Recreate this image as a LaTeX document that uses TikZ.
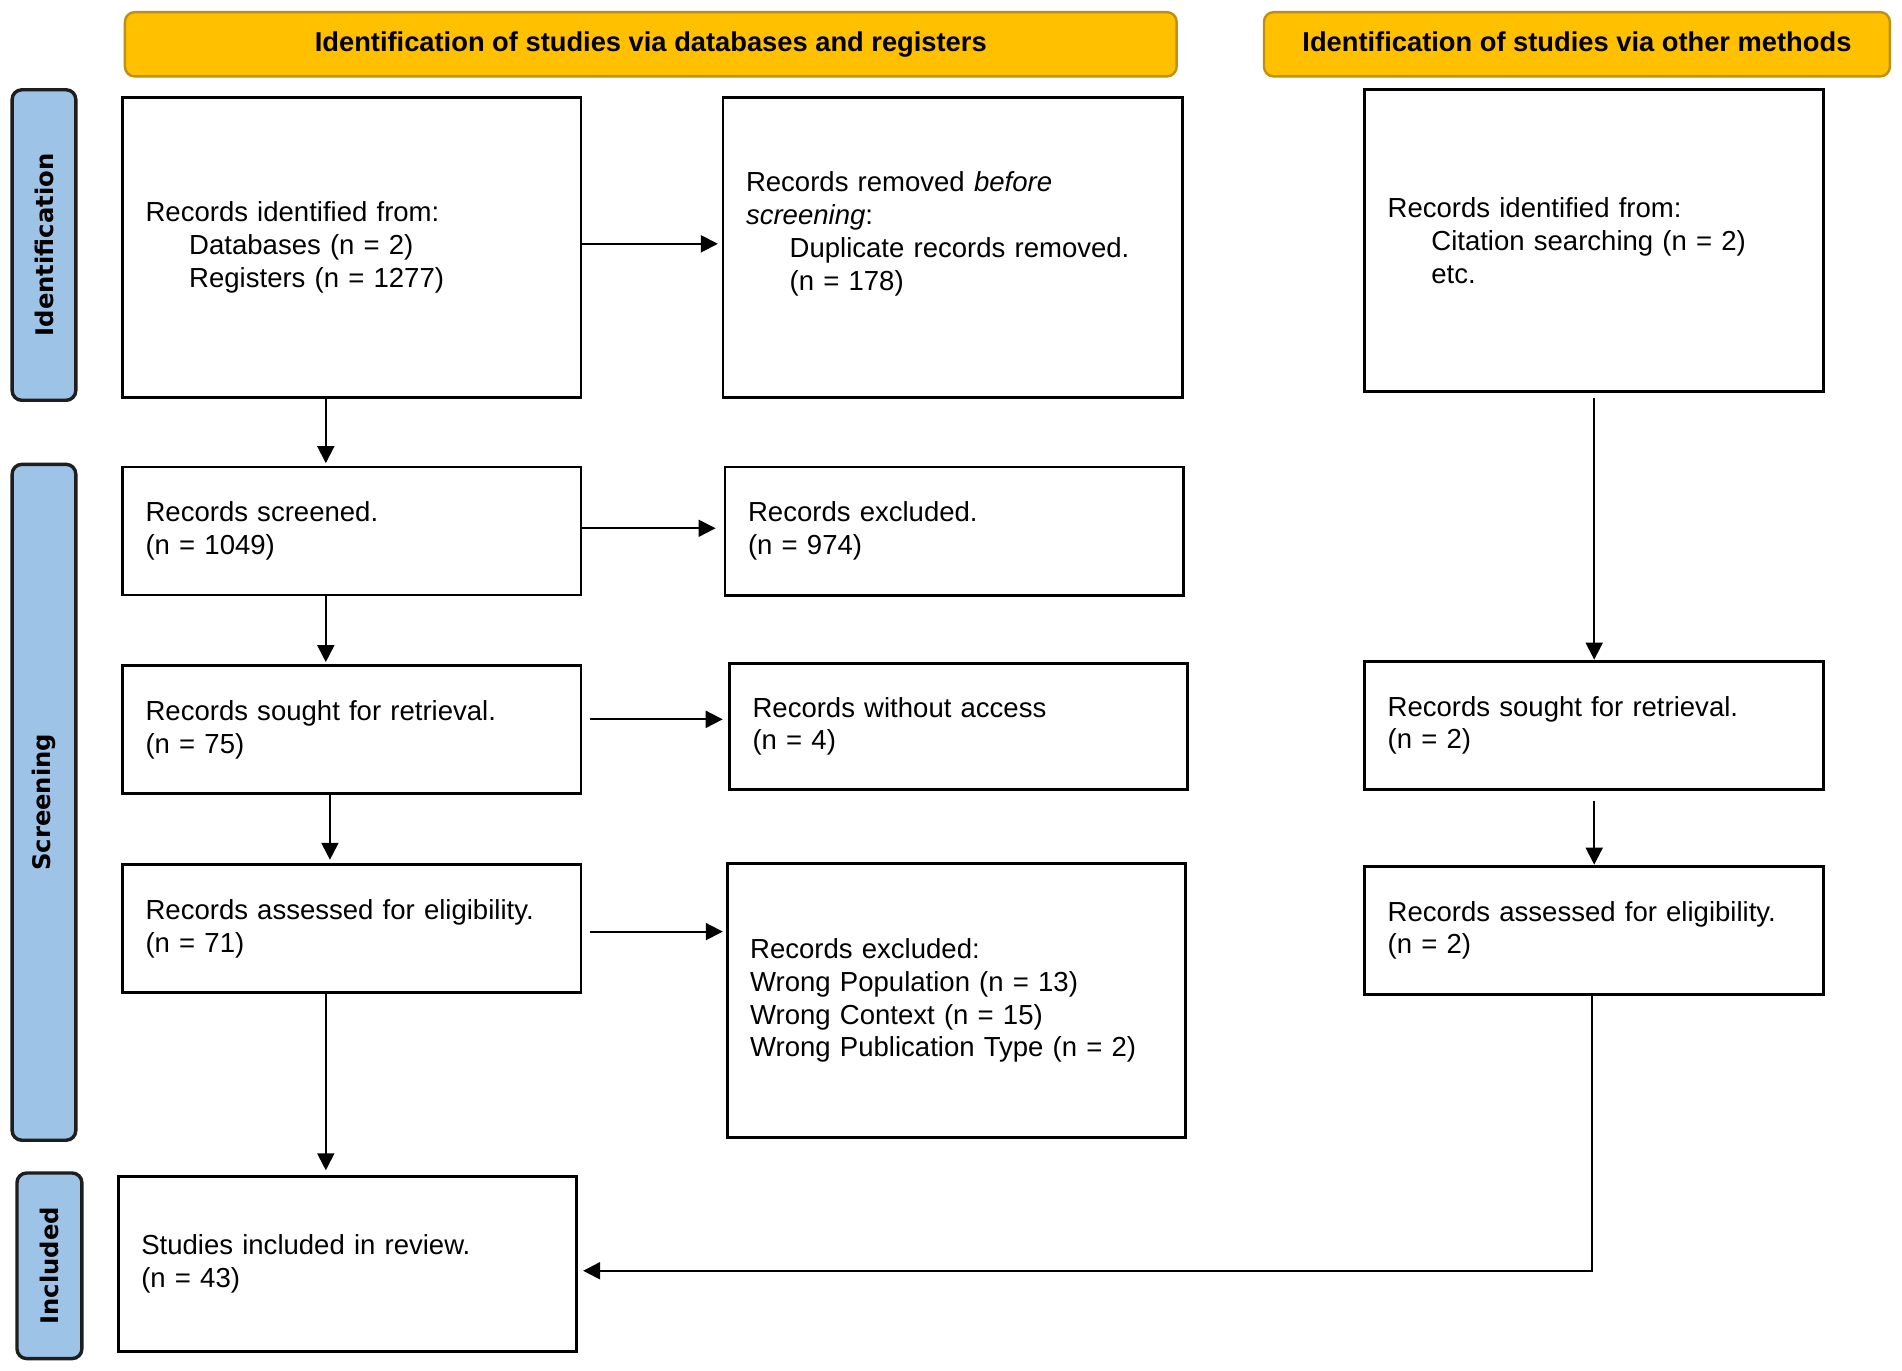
\documentclass[tikz,border=0pt]{standalone}
\usepackage{fontspec}
\setmainfont{Liberation Sans}
\newfontfamily\sidefont{DejaVu Sans}
\usetikzlibrary{arrows.meta}
\definecolor{headfill}{RGB}{255,192,0}
\definecolor{headborder}{RGB}{190,145,20}
\definecolor{sidefill}{RGB}{157,195,230}
\definecolor{sideborder}{RGB}{30,30,30}
\begin{document}
\begin{tikzpicture}[x=0.5pt,y=-0.5pt,
  box/.style={draw=black, line width=1.2pt, fill=white, rectangle, inner xsep=9.5pt, inner ysep=0pt, align=left, font=\fontsize{11.35pt}{13.5pt}\selectfont},
  head/.style={draw=headborder, fill=headfill, rounded corners=4pt, line width=1pt, inner sep=0pt, font=\fontsize{11.25pt}{13.5pt}\selectfont\bfseries, minimum height=26.5pt, text height=8.6pt, text depth=2.4pt},
  side/.style={draw=sideborder, fill=sidefill, rounded corners=4pt, line width=1.4pt, inner sep=0pt, rotate=90, font=\sidefont\fontsize{10pt}{11pt}\selectfont\bfseries},
  arr/.style={-{Triangle[length=7pt,width=7pt]}, line width=0.8pt}]
\fill[white] (0,0) rectangle (1568,1130);
\useasboundingbox (0,0) rectangle (1568,1130);

% headers
\node[head, minimum width=433.5pt] (h1) at (536.5,36.5) {Identification of studies via databases and registers};
\node[head, minimum width=258pt] (h2) at (1300,36.5) {Identification of studies via other methods};

% side bars
\node[side, minimum width=128pt, minimum height=26.25pt] (s1) at (36.25,202) {Identification};
\node[side, minimum width=278.6pt, minimum height=26.25pt] (s2) at (36.25,661.4) {Screening};
\node[side, minimum width=76.5pt, minimum height=26.75pt] (s3) at (40.75,1043.5) {Included};

% boxes
\node[box, text width=170pt, minimum height=124pt] (A) at (290,204)
 {Records identified from:\\ \hspace*{18pt}Databases (n = 2)\\ \hspace*{18pt}Registers (n = 1277)};
\node[box, text width=170.25pt, minimum height=124pt] (B) at (785.25,204)
 {Records removed \textit{before}\\ \textit{screening}:\\ \hspace*{18pt}Duplicate records removed.\\ \hspace*{18pt}(n = 178)\\ \mbox{}};
\node[box, text width=170.25pt, minimum height=124.5pt] (C) at (1314.25,198.5)
 {Records identified from:\\ \hspace*{18pt}Citation searching (n = 2)\\ \hspace*{18pt}etc.};
\node[box, text width=170pt, minimum height=52.75pt] (D) at (290,437.75)
 {Records screened.\\ (n = 1049)};
\node[box, text width=170pt, minimum height=52.8pt] (D2) at (786.7,437.8)
 {Records excluded.\\ (n = 974)};
\node[box, text width=170pt, minimum height=52.5pt] (E) at (290,601.5)
 {Records sought for retrieval.\\ (n = 75)};
\node[box, text width=169.8pt, minimum height=52.15pt] (E2) at (790.2,598.85)
 {Records without access\\ (n = 4)};
\node[box, text width=170pt, minimum height=52.5pt] (F) at (290,765.5)
 {Records assessed for eligibility.\\ (n = 71)};
\node[box, text width=170pt, minimum height=113.2pt] (F2) at (788.45,824.8)
 {Records excluded:\\ Wrong Population (n = 13)\\ Wrong Context (n = 15)\\ Wrong Publication Type (n = 2)};
\node[box, text width=170.25pt, minimum height=53pt] (H) at (1314.25,598)
 {Records sought for retrieval.\\ (n = 2)};
\node[box, text width=170.25pt, minimum height=53pt] (I) at (1314.25,767)
 {Records assessed for eligibility.\\ (n = 2)};
\node[box, text width=170pt, minimum height=72pt] (G) at (286.5,1042)
 {Studies included in review.\\ (n = 43)};

% helper coordinates
\coordinate (xa) at (268.6,0);
\coordinate (xb) at (272,0);
\coordinate (xi) at (1312.5,0);
\coordinate (ya) at (0,201);
\coordinate (yd) at (0,435.5);
\coordinate (ye) at (0,593);
\coordinate (yf) at (0,768);
\coordinate (yg) at (0,1047.6);

% connectors
\draw[arr, shorten >=1pt] (A.south -| xa) -- (D.north -| xa);
\draw[arr, shorten >=1pt] (D.south -| xa) -- (E.north -| xa);
\draw[arr, shorten >=1.5pt] (E.south -| xb) -- (F.north -| xb);
\draw[arr, shorten >=2pt] (F.south -| xa) -- (G.north -| xa);
\draw[arr, shorten >=1.5pt] (A.east |- ya) -- (B.west |- ya);
\draw[arr, shorten >=3.3pt] (D.east |- yd) -- (D2.west |- yd);
\draw[arr, shorten <=3pt, shorten >=2.2pt] (E.east |- ye) -- (E2.west |- ye);
\draw[arr, shorten <=3pt, shorten >=1.2pt] (F.east |- yf) -- (F2.west |- yf);
\draw[arr, shorten <=2pt] (C.south) -- (H.north);
\draw[arr, shorten <=4pt] (H.south) -- (I.north);
\draw[arr, shorten >=2pt] (I.south -| xi) |- (G.east |- yg);
\end{tikzpicture}
\end{document}
